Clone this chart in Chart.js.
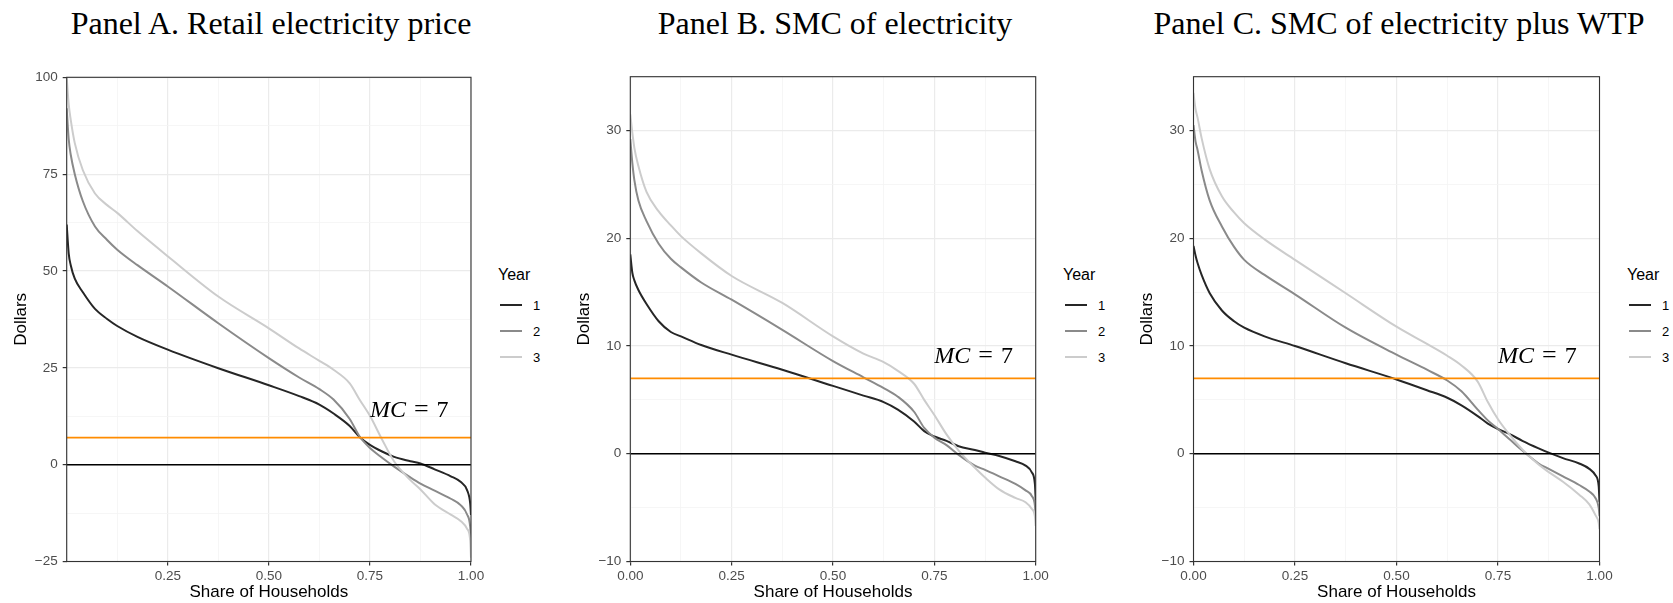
<!DOCTYPE html>
<html>
<head>
<meta charset="utf-8">
<script src="https://cdn.jsdelivr.net/npm/chart.js@4.4.1/dist/chart.umd.min.js"></script>
<style>
  html, body { margin:0; padding:0; background:#fff; overflow:hidden; }
  body { width:1673px; height:603px; position:relative; font-family:"Liberation Sans", Arial, sans-serif; }
  .panel { position:absolute; top:0; height:603px; }
  .ptitle { position:absolute; top:6.5px; font-family:"Liberation Serif", serif; font-size:32px; line-height:1; color:#000; white-space:nowrap; transform:translateX(-50%); }
  .legend { position:absolute; top:265px; }
  .lg-title { font-size:16px; line-height:20px; height:20px; margin-bottom:7px; color:#000; }
  .lg-row { display:flex; align-items:center; height:26px; }
  .lg-key { display:inline-block; width:22px; height:1.6px; margin-left:2px; }
  .lg-lab { margin-left:11px; font-size:13px; color:#000; }
</style>
</head>
<body>

<div class="ptitle" style="left:271px">Panel A. Retail electricity price</div>
<div class="ptitle" style="left:835px">Panel B. SMC of electricity</div>
<div class="ptitle" style="left:1399px">Panel C. SMC of electricity plus WTP</div>

<div class="panel" style="left:0px;width:491px"><canvas id="retailChart"></canvas></div>
<div class="panel" style="left:560px;width:496px"><canvas id="smcChart"></canvas></div>
<div class="panel" style="left:1120px;width:500px"><canvas id="wtpChart"></canvas></div>

<div class="legend" id="retailLegend" style="left:498px"></div>
<div class="legend" id="smcLegend" style="left:1063px"></div>
<div class="legend" id="wtpLegend" style="left:1627px"></div>

<script>
// share of households (x) at which each curve was read
const shareGrid = [0,0.005,0.01,0.02,0.04,0.07,0.1,0.125,0.175,0.25,0.375,0.5,0.575,0.625,0.66,0.7,0.725,0.75,0.78,0.81,0.85,0.875,0.91,0.95,0.975,0.99,0.998,1];
const years = ['1','2','3'];

// Panel A - retail electricity price
const retailYear1 = [62,54.5,51.5,48,44.5,40.2,37.6,35.8,33,29.7,24.9,20.5,17.7,15.5,13.2,10.0,7.1,5.1,3.4,2.0,0.9,0.3,-1.2,-3.0,-4.5,-6.5,-10,-13];
const retailYear2 = [92,84,80,75,68,61.5,58,55.5,51.5,46,36.5,27.5,22.5,19.5,16.8,11.8,7.2,4.3,1.8,-0.5,-3.3,-4.9,-6.7,-8.8,-10.5,-12.8,-16,-19.5];
const retailYear3 = [100,93,89,83,76,70,67,65,60.3,53.8,43.4,35.2,30,26.8,24.5,21,16.7,12.6,6.5,0.8,-4.0,-6.4,-10.2,-12.9,-14.6,-16.5,-19.5,-24];

// Panel B - SMC of electricity
const smcYear1 = [18.5,16.8,16.1,15.2,13.9,12.3,11.3,10.9,10.1,9.2,7.8,6.3,5.4,4.8,4.1,3.0,2.1,1.6,1.2,0.7,0.35,0.1,-0.2,-0.7,-1.1,-1.7,-2.8,-4.3];
const smcYear2 = [29.2,27,25.4,23.5,21.6,19.5,18.1,17.3,15.9,14.3,11.5,8.6,7.1,6.1,5.3,3.9,2.4,1.5,0.8,-0.1,-1.1,-1.5,-2.1,-2.8,-3.4,-3.9,-4.8,-5.8];
const smcYear3 = [31.5,29.8,28.4,26.7,24.3,22.5,21.2,20.2,18.6,16.5,14.0,10.9,9.3,8.5,7.7,6.5,5.0,3.6,1.8,0.3,-1.3,-2.2,-3.3,-4.1,-4.5,-5.1,-5.8,-6.7];

// Panel C - SMC of electricity plus WTP
const wtpYear1 = [19.3,18.4,17.7,16.6,14.9,13.3,12.3,11.7,10.9,10.0,8.4,6.9,5.9,5.2,4.5,3.5,2.8,2.3,1.8,1.2,0.5,0.1,-0.4,-0.9,-1.4,-2.0,-3.0,-4.5];
const wtpYear2 = [30.5,29,28.2,26.3,23.5,21.1,19.2,18.0,16.6,14.8,11.7,9.2,7.8,6.8,5.8,4.1,3.1,2.3,1.3,0.3,-0.9,-1.4,-2.1,-2.9,-3.5,-4.1,-5.0,-5.8];
const wtpYear3 = [33.5,32,31.2,29.3,26.4,23.9,22.4,21.4,19.9,18.0,14.9,11.8,10.2,9.1,8.2,6.7,4.8,3.2,1.7,0.4,-1.0,-1.7,-2.6,-3.8,-4.7,-5.7,-6.4,-7.0];

// reference lines and tick labels
const mcValue = 7;
const zeroValue = 0;
const xTicksFull = [0,0.25,0.5,0.75,1];
const xTicksRetail = [0.25,0.5,0.75,1];
const yTicksRetail = [-25,0,25,50,75,100];
const yTicksSmc = [-10,0,10,20,30];

const yearColors = ['#262626','#8a8a8a','#cccccc'];

Chart.defaults.font.family = '"Liberation Sans", Arial, sans-serif';

const near = (v, list) => list.some(t => Math.abs(t - v) < 1e-9);
const fmtY = v => v < 0 ? '\u2212' + Math.abs(v) : String(v);

// panel border + MC label
const framePlugin = {
  id: 'frame',
  afterDatasetsDraw(chart, args, opts) {
    const {ctx, chartArea: a, scales: {x, y}} = chart;
    ctx.save();
    const px = x.getPixelForValue(opts.labelX);
    const py = y.getPixelForValue(opts.labelY);
    ctx.fillStyle = '#000';
    ctx.textAlign = 'left';
    ctx.textBaseline = 'alphabetic';
    ctx.font = 'italic 24px "Liberation Serif"';
    ctx.fillText('MC', px, py);
    let cx = px + ctx.measureText('MC').width + 8;
    ctx.font = '26px "Liberation Serif"';
    ctx.fillText('=', cx, py);
    cx += ctx.measureText('=').width + 8;
    ctx.font = '24px "Liberation Serif"';
    ctx.fillText(String(mcValue), cx, py);

    ctx.strokeStyle = '#333333';
    ctx.lineWidth = 1.1;
    ctx.strokeRect(a.left, a.top, a.right - a.left, a.bottom - a.top);
    ctx.restore();
  }
};

function makeChart(id, series, yMin, yMax, yStep, yMajor, xMajor, labelY, pad) {
  const datasets = series.map((ys, i) => ({
    label: years[i],
    isYear: true,
    data: shareGrid.map((x, k) => ({x: x, y: ys[k]})),
    borderColor: yearColors[i],
    backgroundColor: yearColors[i],
    borderWidth: 2,
    pointRadius: 0,
    cubicInterpolationMode: 'monotone',
    order: 4 - i
  }));
  datasets.push({label: 'zero', data: [{x: 0, y: zeroValue}, {x: 1, y: zeroValue}], borderColor: '#000', borderWidth: 1.5, pointRadius: 0, order: 1});
  datasets.push({label: 'MC', data: [{x: 0, y: mcValue}, {x: 1, y: mcValue}], borderColor: '#ff8c00', borderWidth: 1.7, pointRadius: 0, order: 0});

  const xMaj = v => near(v, xTicksFull);
  const yMaj = v => near(v, yMajor);

  return new Chart(document.getElementById(id), {
    type: 'line',
    data: {datasets: datasets},
    plugins: [framePlugin],
    options: {
      responsive: true,
      maintainAspectRatio: false,
      animation: false,
      events: [],
      layout: {padding: pad},
      plugins: {
        legend: {display: false},
        tooltip: {enabled: false},
        frame: {labelX: 0.75, labelY: labelY}
      },
      scales: {
        x: {
          type: 'linear', min: 0, max: 1,
          afterFit: s => { s.height = 41.5; },
          border: {display: false},
          grid: {
            color: c => xMaj(c.tick.value) ? '#ebebeb' : '#f4f4f4',
            lineWidth: c => xMaj(c.tick.value) ? 1.2 : 0.8,
            tickLength: 4,
            tickColor: c => near(c.tick.value, xMajor) ? '#333333' : 'rgba(0,0,0,0)'
          },
          ticks: {
            stepSize: 0.125, autoSkip: false, maxRotation: 0, padding: 3,
            color: '#4d4d4d', font: {size: 13.5},
            callback: v => near(v, xMajor) ? v.toFixed(2) : ''
          },
          title: {display: true, text: 'Share of Households', color: '#000', font: {size: 17}, padding: 0}
        },
        y: {
          min: yMin, max: yMax,
          afterFit: s => { s.width = 56; },
          border: {display: false},
          grid: {
            color: c => yMaj(c.tick.value) ? '#ebebeb' : '#f4f4f4',
            lineWidth: c => yMaj(c.tick.value) ? 1.2 : 0.8,
            tickLength: 4,
            tickColor: c => yMaj(c.tick.value) ? '#333333' : 'rgba(0,0,0,0)'
          },
          ticks: {
            stepSize: yStep, autoSkip: false, padding: 5,
            color: '#4d4d4d', font: {size: 13.5},
            callback: v => yMaj(v) ? fmtY(v) : ''
          },
          title: {display: true, text: 'Dollars', color: '#000', font: {size: 17}, padding: 0}
        }
      }
    }
  });
}

function buildLegend(elId, chart) {
  const el = document.getElementById(elId);
  el.innerHTML = '<div class="lg-title">Year</div>';
  chart.data.datasets.filter(d => d.isYear).forEach(d => {
    const row = document.createElement('div');
    row.className = 'lg-row';
    row.innerHTML = '<span class="lg-key" style="background:' + d.borderColor + '"></span><span class="lg-lab">' + d.label + '</span>';
    el.appendChild(row);
  });
}

const retailChart = makeChart('retailChart', [retailYear1, retailYear2, retailYear3], -25, 100, 12.5, yTicksRetail, xTicksRetail, 12.3,
  {left: 10.7, right: 20, top: 77.3, bottom: 0});
const smcChart = makeChart('smcChart', [smcYear1, smcYear2, smcYear3], -10, 35, 5, yTicksSmc, xTicksFull, 8.45,
  {left: 14.3, right: 20.3, top: 76.7, bottom: 0});
const wtpChart = makeChart('wtpChart', [wtpYear1, wtpYear2, wtpYear3], -10, 35, 5, yTicksSmc, xTicksFull, 8.45,
  {left: 17.5, right: 20.5, top: 76.7, bottom: 0});

buildLegend('retailLegend', retailChart);
buildLegend('smcLegend', smcChart);
buildLegend('wtpLegend', wtpChart);
</script>
</body>
</html>
